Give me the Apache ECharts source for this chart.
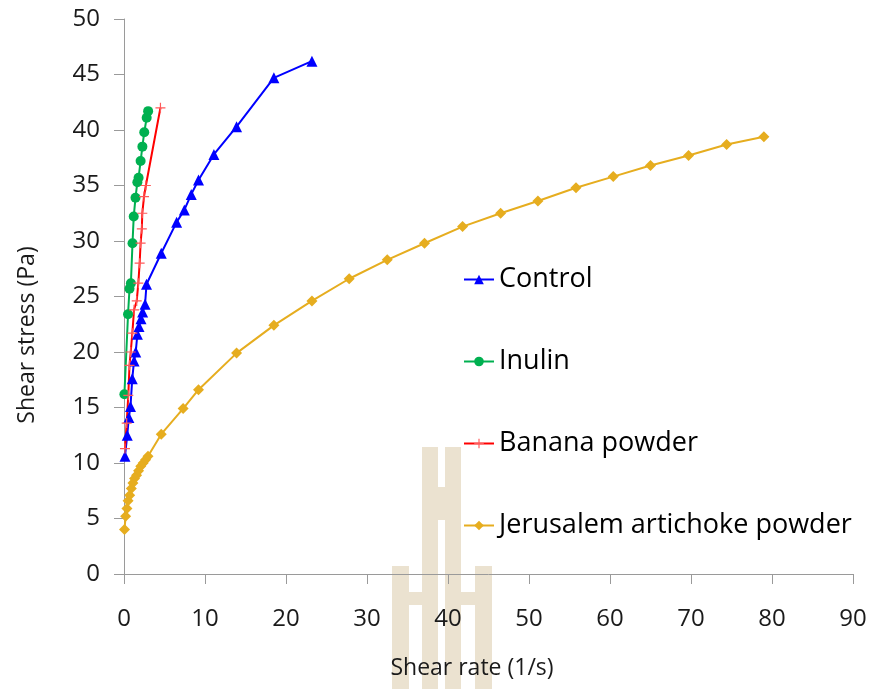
<!DOCTYPE html>
<html>
<head>
<meta charset="utf-8">
<script src="https://cdn.jsdelivr.net/npm/echarts@6/dist/echarts.min.js"></script>
<style>html,body{margin:0;padding:0;background:#fff}#chart{width:871px;height:689px}</style>
</head>
<body>
<div id="chart"></div>
<script>
// ---- Data ----
const seriesNames = ['Control', 'Inulin', 'Banana powder', 'Jerusalem artichoke powder'];

const controlX = [0.12, 0.4, 0.6, 0.8, 1.02, 1.24, 1.45, 1.65, 1.85, 2.1, 2.3, 2.6, 2.78, 4.6, 6.5, 7.45, 8.3, 9.2, 11.1, 13.9, 18.5, 23.2];
const controlY = [10.6, 12.5, 14.1, 15.1, 17.6, 19.2, 20.0, 21.6, 22.3, 23.0, 23.6, 24.3, 26.1, 28.9, 31.7, 32.8, 34.2, 35.5, 37.8, 40.3, 44.7, 46.2];

const inulinX = [0.05, 0.5, 0.68, 0.85, 1.05, 1.2, 1.42, 1.65, 1.8, 2.05, 2.27, 2.5, 2.8, 2.98];
const inulinY = [16.2, 23.4, 25.7, 26.2, 29.8, 32.2, 33.9, 35.3, 35.7, 37.2, 38.5, 39.8, 41.1, 41.7];

const bananaX = [0.12, 0.33, 0.53, 0.68, 0.83, 1.03, 1.24, 1.57, 1.77, 1.93, 2.05, 2.2, 2.26, 2.47, 2.7, 4.5];
const bananaY = [11.3, 13.6, 16.1, 18.8, 20.0, 21.7, 23.8, 24.6, 26.2, 28.0, 29.8, 31.1, 32.5, 34.0, 35.0, 42.0];

const jerusalemX = [0.06, 0.2, 0.36, 0.5, 0.7, 0.9, 1.1, 1.3, 1.55, 1.8, 2.07, 2.37, 2.66, 2.96, 4.6, 7.3, 9.2, 13.9, 18.5, 23.2, 27.8, 32.5, 37.1, 41.8, 46.5, 51.1, 55.8, 60.4, 65.0, 69.7, 74.4, 79.0];
const jerusalemY = [4.0, 5.2, 5.9, 6.6, 7.1, 7.7, 8.2, 8.6, 8.9, 9.3, 9.7, 10.0, 10.3, 10.6, 12.6, 14.9, 16.6, 19.9, 22.4, 24.6, 26.6, 28.3, 29.8, 31.3, 32.5, 33.6, 34.8, 35.8, 36.8, 37.7, 38.7, 39.4];

const xTicks = [0, 10, 20, 30, 40, 50, 60, 70, 80, 90];
const yTicks = [0, 5, 10, 15, 20, 25, 30, 35, 40, 45, 50];
const xTitle = 'Shear rate (1/s)';
const yTitle = 'Shear stress (Pa)';

// ---- Build ----
const pairs = (xs, ys) => xs.map((x, i) => [x, ys[i]]);
const FONT = '"Open Sans", "Noto Sans", sans-serif';
const plusPath = 'path://M4.4,0h1.2v10h-1.2z M0,4.4h10v1.2h-10z';
const wm = '#ebe2d0';

const chart = echarts.init(document.getElementById('chart'), null, {renderer: 'canvas'});
chart.setOption({
  animation: false,
  backgroundColor: '#ffffff',
  grid: {left: 124, right: 18, top: 19, bottom: 115, containLabel: false},
  graphic: [
    // watermark (background logo)
    {type: 'group', z: -10, silent: true, children: [
      {type: 'rect', shape: {x: 422, y: 447, width: 16, height: 242}, style: {fill: wm}},
      {type: 'rect', shape: {x: 445, y: 447, width: 16, height: 242}, style: {fill: wm}},
      {type: 'rect', shape: {x: 437, y: 487, width: 9, height: 33}, style: {fill: wm}},
      {type: 'rect', shape: {x: 392, y: 566, width: 17, height: 123}, style: {fill: wm}},
      {type: 'rect', shape: {x: 475, y: 566, width: 17, height: 123}, style: {fill: wm}},
      {type: 'rect', shape: {x: 408, y: 592, width: 15, height: 13}, style: {fill: wm}},
      {type: 'rect', shape: {x: 460, y: 592, width: 16, height: 13}, style: {fill: wm}}
    ]},
    {type: 'text', x: 472, y: 668, z: 10,
      style: {text: xTitle, font: '23px "Open Sans", sans-serif', fill: '#1a1a1a', textAlign: 'center', textVerticalAlign: 'middle'}},
    {type: 'text', x: 27, y: 335, rotation: Math.PI / 2, z: 10,
      style: {text: yTitle, font: '23px "Open Sans", sans-serif', fill: '#1a1a1a', textAlign: 'center', textVerticalAlign: 'middle'}}
  ],
  legend: {
    orient: 'vertical',
    left: 463,
    top: 266,
    padding: 0,
    itemWidth: 30,
    itemHeight: 12,
    itemGap: 55,
    data: seriesNames,
    textStyle: {fontFamily: FONT, fontSize: 27, lineHeight: 27, color: '#000'}
  },
  xAxis: {
    type: 'value', min: 0, max: 90, interval: 10,
    splitLine: {show: false},
    axisLine: {show: true, onZero: false, lineStyle: {color: '#9a9a9a', width: 1}},
    axisTick: {show: true, length: 10, lineStyle: {color: '#9a9a9a'}},
    axisLabel: {margin: 33, fontFamily: FONT, fontSize: 24, color: '#1a1a1a',
      formatter: v => xTicks.includes(v) ? String(v) : ''}
  },
  yAxis: {
    type: 'value', min: 0, max: 50, interval: 5,
    splitLine: {show: false},
    axisLine: {show: true, onZero: false, lineStyle: {color: '#9a9a9a', width: 1}},
    axisTick: {show: true, length: 10, lineStyle: {color: '#9a9a9a'}},
    axisLabel: {margin: 24, fontFamily: FONT, fontSize: 24, color: '#1a1a1a',
      formatter: v => yTicks.includes(v) ? String(v) : ''}
  },
  series: [
    {name: seriesNames[0], type: 'line', data: pairs(controlX, controlY),
      symbol: 'triangle', symbolSize: 11, showAllSymbol: true,
      lineStyle: {color: '#0000ff', width: 2}, itemStyle: {color: '#0000ff'}},
    {name: seriesNames[1], type: 'line', data: pairs(inulinX, inulinY),
      symbol: 'circle', symbolSize: 10, showAllSymbol: true,
      lineStyle: {color: '#00b050', width: 2}, itemStyle: {color: '#00b050'}},
    {name: seriesNames[2], type: 'line', data: pairs(bananaX, bananaY),
      symbol: plusPath, symbolSize: 10, showAllSymbol: true,
      lineStyle: {color: '#ff0000', width: 2}, itemStyle: {color: '#ff5a5a'}},
    {name: seriesNames[3], type: 'line', data: pairs(jerusalemX, jerusalemY),
      symbol: 'diamond', symbolSize: 11, showAllSymbol: true,
      lineStyle: {color: '#e6ad1f', width: 2}, itemStyle: {color: '#e6ad1f'}}
  ]
});
</script>
</body>
</html>
